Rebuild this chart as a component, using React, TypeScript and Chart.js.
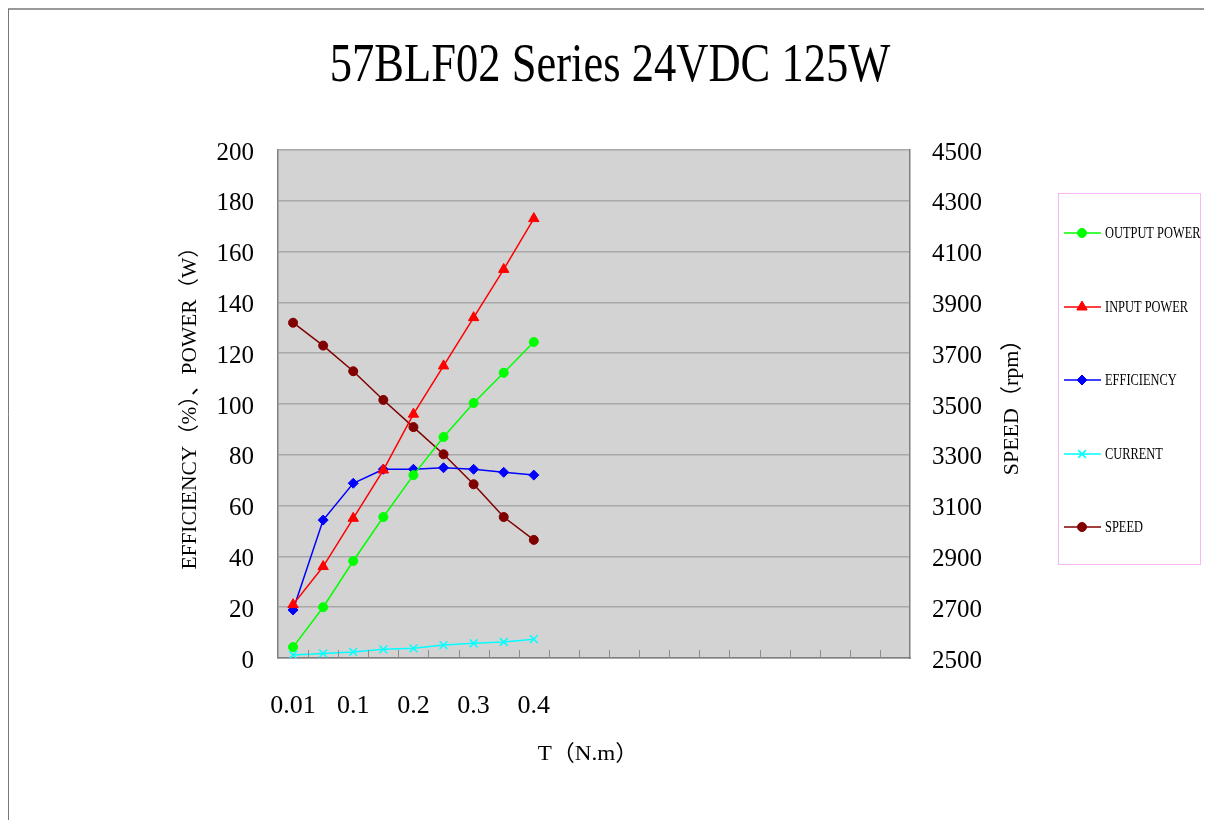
import React, { useEffect, useRef } from "react";
import { Chart, registerables } from "chart.js";
import { drawPoint } from "chart.js/helpers";

Chart.register(...registerables);

// ---------- data ----------
const TORQUE_LABELS = ["0.01", "", "0.1", "", "0.2", "", "0.3", "", "0.4"];
const SLOT_COUNT = 21;

const OUTPUT_POWER = [4.3, 20, 38.2, 55.5, 72, 87, 100.4, 112.3, 124.4];
const INPUT_POWER = [21, 36, 55, 74, 96, 115, 134, 153, 173];
const EFFICIENCY = [18.9, 54.3, 68.8, 74.3, 74.3, 74.9, 74.3, 73.1, 72];
const CURRENT = [1.2, 1.8, 2.4, 3.4, 3.8, 5.1, 5.8, 6.3, 7.4];
const SPEED = [3820, 3730, 3629, 3516, 3409, 3302, 3184, 3055, 2965];

const LEFT_MIN = 0;
const LEFT_MAX = 200;
const LEFT_STEP = 20;
const RIGHT_MIN = 2500;
const RIGHT_MAX = 4500;
const RIGHT_STEP = 200;

const TITLE = "57BLF02 Series 24VDC 125W";
const X_TITLE = "T\uFF08N.m\uFF09";
const Y_TITLE = "EFFICIENCY\uFF08%\uFF09\u3001POWER\uFF08W\uFF09";
const Y1_TITLE = "SPEED\uFF08rpm\uFF09";

// ---------- styling ----------
const FONT = '"Liberation Serif", "Noto Sans CJK SC", serif';
const W = 1204;
const H = 812;

function drawScaledText(
  ctx: CanvasRenderingContext2D,
  text: string,
  x: number,
  y: number,
  size: number,
  sx: number,
  rot = 0,
  align: CanvasTextAlign = "center"
) {
  ctx.save();
  ctx.translate(x, y);
  if (rot) ctx.rotate(rot);
  ctx.scale(sx, 1);
  ctx.font = `${size}px ${FONT}`;
  ctx.textAlign = align;
  ctx.textBaseline = "middle";
  ctx.fillStyle = "#000";
  ctx.fillText(text, 0, 0);
  ctx.restore();
}

const decorPlugin = {
  id: "decor",
  beforeDraw(chart: any) {
    const { ctx, chartArea } = chart;
    ctx.save();
    ctx.fillStyle = "#fff";
    ctx.fillRect(0, 0, W, H);
    // frame
    ctx.strokeStyle = "#9a9a9a";
    ctx.lineWidth = 2;
    ctx.beginPath();
    ctx.moveTo(0, 1);
    ctx.lineTo(W, 1);
    ctx.stroke();
    ctx.strokeStyle = "#777";
    ctx.lineWidth = 1;
    ctx.beginPath();
    ctx.moveTo(0.5, 1);
    ctx.lineTo(0.5, H);
    ctx.stroke();
    // plot background
    ctx.fillStyle = "#d3d3d3";
    ctx.fillRect(
      chartArea.left,
      chartArea.top,
      chartArea.right - chartArea.left,
      chartArea.bottom - chartArea.top
    );
    ctx.restore();
  },
  afterDraw(chart: any) {
    const { ctx, chartArea } = chart;
    // inner tick marks on x axis at category boundaries
    const xs = chart.scales.x;
    const step = (xs.right - xs.left) / SLOT_COUNT;
    ctx.save();
    ctx.strokeStyle = "#8c8c8c";
    ctx.lineWidth = 1;
    for (let i = 1; i < SLOT_COUNT; i++) {
      const px = Math.round(xs.left + i * step) + 0.5;
      ctx.beginPath();
      ctx.moveTo(px, chartArea.bottom);
      ctx.lineTo(px, chartArea.bottom - 8);
      ctx.stroke();
    }
    ctx.restore();

    // titles
    drawScaledText(ctx, TITLE, 602, 59, 55, 0.81);
    drawScaledText(ctx, X_TITLE, 580, 746, 22, 1.05);
    drawScaledText(ctx, Y_TITLE, 182, 395, 21, 1.02, -Math.PI / 2);
    drawScaledText(ctx, Y1_TITLE, 1004, 394, 22, 1.0, -Math.PI / 2);

    // legend
    ctx.save();
    ctx.strokeStyle = "#f6b8f6";
    ctx.lineWidth = 1;
    ctx.strokeRect(1050.5, 185.5, 142, 371);
    ctx.restore();
    const rows = [225, 299, 372, 446, 519];
    chart.data.datasets.forEach((ds: any, i: number) => {
      const y = rows[i];
      ctx.save();
      ctx.strokeStyle = ds.borderColor;
      ctx.fillStyle = ds.pointBackgroundColor;
      ctx.lineWidth = 1.5;
      ctx.beginPath();
      ctx.moveTo(1056, y);
      ctx.lineTo(1093, y);
      ctx.stroke();
      ctx.lineWidth = ds.pointBorderWidth ?? 1;
      drawPoint(
        ctx,
        { pointStyle: ds.pointStyle, radius: ds.pointRadius, rotation: 0, borderWidth: ds.pointBorderWidth ?? 1 },
        1074,
        y
      );
      ctx.restore();
      drawScaledText(ctx, ds.label, 1097, y + 1, 17, 0.73, 0, "left");
    });
  },
};

export default function App() {
  const ref = useRef<HTMLCanvasElement | null>(null);

  useEffect(() => {
    document.body.style.overflow = "hidden";
    const canvas = ref.current;
    if (!canvas) return;
    const labels = [
      ...TORQUE_LABELS,
      ...Array(SLOT_COUNT - TORQUE_LABELS.length).fill(""),
    ];
    const mk = (
      label: string,
      data: number[],
      color: string,
      pointStyle: string,
      radius: number,
      axis: string,
      pbw = 1
    ) => ({
      label,
      data,
      borderColor: color,
      backgroundColor: color,
      pointBackgroundColor: color,
      pointBorderColor: color,
      pointStyle,
      pointRadius: radius,
      pointBorderWidth: pbw,
      borderWidth: 1.5,
      yAxisID: axis,
      tension: 0,
      fill: false,
    });
    const chart = new Chart(canvas, {
      type: "line",
      data: {
        labels,
        datasets: [
          mk("OUTPUT POWER", OUTPUT_POWER, "#00ff00", "circle", 4.5, "y"),
          mk("INPUT POWER", INPUT_POWER, "#ff0000", "triangle", 6, "y"),
          mk("EFFICIENCY", EFFICIENCY, "#0000ff", "rectRot", 5, "y"),
          mk("CURRENT", CURRENT, "#00ffff", "crossRot", 5.5, "y", 1.5),
          mk("SPEED", SPEED, "#800000", "circle", 4.5, "y1"),
        ] as any,
      },
      options: {
        responsive: false,
        animation: false,
        devicePixelRatio: 1,
        layout: { padding: { left: 100, right: 172, top: 142, bottom: 62 } },
        plugins: {
          legend: { display: false },
          title: { display: false },
          tooltip: { enabled: false },
        },
        scales: {
          x: {
            type: "category",
            offset: true,
            grid: { display: false, drawTicks: false },
            border: { display: true, color: "#808080", width: 1.5 },
            ticks: {
              autoSkip: false,
              maxRotation: 0,
              minRotation: 0,
              padding: 33,
              color: "#000",
              font: { family: FONT, size: 26 },
            },
            afterFit(scale: any) {
              scale.height = 100;
            },
          },
          y: {
            position: "left",
            min: LEFT_MIN,
            max: LEFT_MAX,
            ticks: {
              stepSize: LEFT_STEP,
              padding: 24,
              labelOffset: 3,
              color: "#000",
              font: { family: FONT, size: 25 },
              callback: (v: any) => String(v),
            },
            grid: { color: "#a8a8a8", lineWidth: 1.5, drawTicks: false },
            border: { display: true, color: "#808080", width: 1.5 },
            afterFit(scale: any) {
              scale.width = 170;
            },
          },
          y1: {
            position: "right",
            min: RIGHT_MIN,
            max: RIGHT_MAX,
            ticks: {
              stepSize: RIGHT_STEP,
              padding: 22,
              labelOffset: 3,
              color: "#000",
              font: { family: FONT, size: 25 },
              callback: (v: any) => String(v),
            },
            grid: { drawOnChartArea: false, drawTicks: false },
            border: { display: true, color: "#808080", width: 1.5 },
            afterFit(scale: any) {
              scale.width = 130;
            },
          },
        },
      } as any,
      plugins: [decorPlugin],
    });
    return () => chart.destroy();
  }, []);

  return (
    <div style={{ width: W, height: H }}>
      <canvas ref={ref} width={W} height={H} style={{ display: "block" }} />
    </div>
  );
}
